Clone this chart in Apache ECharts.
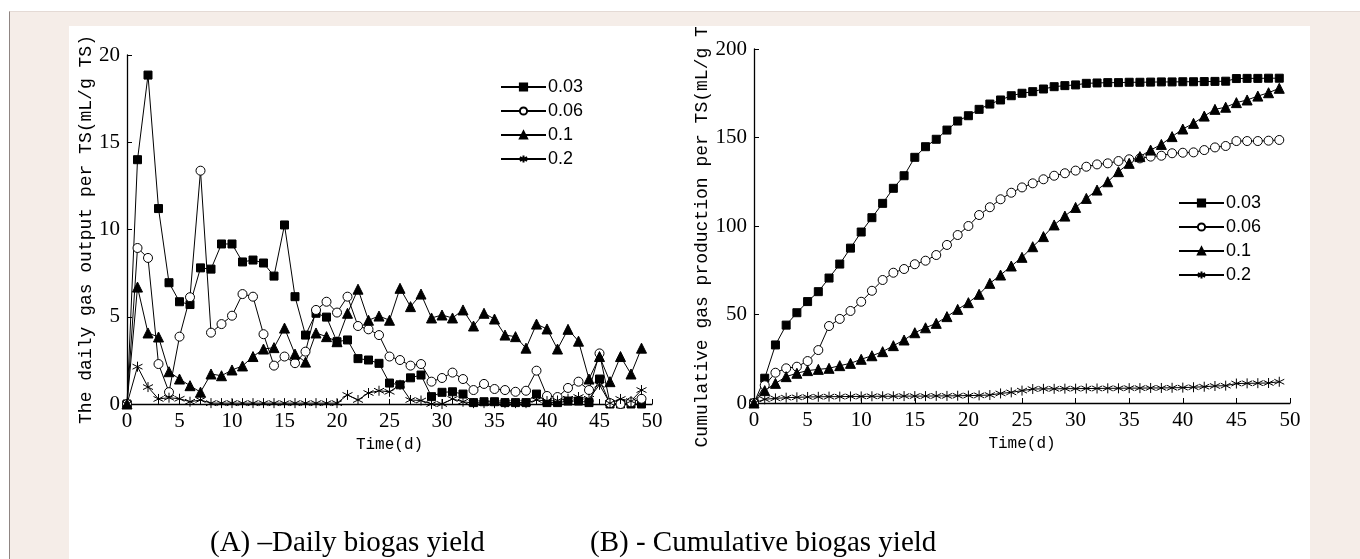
<!DOCTYPE html>
<html>
<head>
<meta charset="utf-8">
<script src="https://cdn.jsdelivr.net/npm/echarts@6/dist/echarts.min.js"></script>
<style>
  body { margin: 0; background: #fff; }
  #frame { position: absolute; left: 9px; top: 11px; width: 1351px; height: 548px; background: #f5ede8;
           border-top: 1px solid #e4dad5; border-left: 1px solid #8f8582; box-sizing: border-box; }
  #chart { position: absolute; left: 69px; top: 26px; width: 1241px; height: 533px; background: #fff; }
</style>
</head>
<body>
<div id="frame"></div>
<div id="chart"></div>
<script>
const days = [0, 1, 2, 3, 4, 5, 6, 7, 8, 9, 10, 11, 12, 13, 14, 15, 16, 17, 18, 19, 20, 21, 22, 23, 24,
  25, 26, 27, 28, 29, 30, 31, 32, 33, 34, 35, 36, 37, 38, 39, 40, 41, 42, 43, 44, 45, 46, 47, 48, 49]
const seriesNames = ['0.03', '0.06', '0.1', '0.2']

// (A) daily gas output, mL/g TS
const daily003 = [0, 14.0, 18.85, 11.2, 6.95, 5.86, 5.7, 7.8, 7.73, 9.17,
  9.17, 8.14, 8.25, 8.08, 7.33, 10.26, 6.15, 3.95, 5.2, 4.98,
  3.57, 3.67, 2.6, 2.52, 2.33, 1.2, 1.1, 1.5, 1.66, 0.42,
  0.67, 0.7, 0.57, 0.08, 0.13, 0.13, 0.08, 0.08, 0.08, 0.57,
  0.08, 0.08, 0.17, 0.17, 0.08, 1.43, 0, 0, 0, 0]
const daily006 = [0, 8.94, 8.37, 2.29, 0.68, 3.86, 6.12, 13.37, 4.09, 4.58,
  5.06, 6.3, 6.15, 4.0, 2.2, 2.72, 2.34, 3.0, 5.39, 5.86,
  5.24, 6.15, 4.47, 4.28, 3.95, 2.72, 2.52, 2.2, 2.29, 1.28,
  1.49, 1.8, 1.43, 0.8, 1.15, 0.86, 0.8, 0.7, 0.76, 1.91,
  0.46, 0.4, 0.92, 1.28, 0.8, 2.9, 0.05, 0, 0.1, 0.3]
const daily01 = [0, 6.7, 4.07, 3.84, 1.85, 1.43, 1.05, 0.68, 1.72, 1.62,
  1.95, 2.18, 2.72, 3.15, 3.23, 4.35, 2.86, 2.4, 4.07, 3.86,
  3.57, 5.2, 6.58, 4.8, 5.04, 4.8, 6.63, 5.58, 6.3, 4.93,
  5.1, 4.93, 5.39, 4.47, 5.2, 4.87, 3.95, 3.86, 3.2, 4.58,
  4.3, 3.15, 4.28, 3.6, 1.43, 2.72, 1.28, 2.72, 1.72, 3.2]
const daily02 = [0, 2.14, 0.97, 0.29, 0.36, 0.3, 0.13, 0.23, 0.05, 0.05,
  0.05, 0.05, 0.05, 0.05, 0.05, 0.05, 0.05, 0.05, 0.05, 0.05,
  0.05, 0.52, 0.23, 0.63, 0.76, 0.7, 1.1, 0.23, 0.2, 0,
  0, 0.29, 0.13, 0.05, 0.05, 0.05, 0.05, 0.05, 0.05, 0.23,
  0.17, 0.2, 0.3, 0.4, 0.3, 1.1, 0.05, 0.29, 0.17, 0.8]

// (B) cumulative gas production, mL/g TS
const cum003 = [0, 14, 32.8, 44, 51, 57.3, 62.9, 70.6, 78.5, 87.5,
  96.6, 104.7, 112.8, 121.3, 128.4, 138.8, 144.8, 149, 154.2, 159.3,
  162.3, 165.9, 168.9, 171.2, 173.6, 175, 175.9, 177.4, 178.7, 179.3,
  179.7, 180.6, 180.8, 181, 181, 181.2, 181.2, 181.3, 181.4, 181.4,
  181.5, 181.5, 181.6, 181.7, 181.8, 183.3, 183.4, 183.4, 183.5, 183.5]
const cum006 = [0, 10, 17.1, 19.6, 20.5, 23.7, 29.9, 43.5, 47.5, 52,
  57.2, 63.4, 69.5, 73.6, 75.7, 78.4, 80.4, 83.6, 89.3, 94.9,
  100, 106.2, 110.6, 115.1, 118.8, 121.8, 124.1, 126.4, 128.4, 129.8,
  131.3, 133.5, 134.8, 135.4, 136.7, 137.7, 138.2, 139.2, 139.7, 141.1,
  141.4, 141.6, 142.9, 144.4, 145.2, 148, 148, 148, 148.2, 148.6]
const cum01 = [0, 7, 11.1, 14.9, 16.8, 18.3, 19, 19.6, 21.1, 22.4,
  24.7, 26.7, 29, 32.4, 35.6, 39.7, 42.5, 45, 48.8, 52.9,
  56.7, 61.4, 67.6, 72.3, 77.4, 82.3, 88.3, 94, 100.6, 105.6,
  110.5, 115.6, 120.3, 125, 130.7, 135.4, 139.2, 142.9, 146.1, 150.5,
  154.8, 158, 162.1, 165.9, 167.1, 169.7, 171.2, 173.4, 175.3, 177.8]
const cum02 = [0, 2.1, 2.6, 3.0, 3.2, 3.4, 3.5, 3.6, 3.6, 3.7,
  3.7, 3.8, 3.8, 3.8, 3.9, 3.9, 3.9, 4.0, 4.0, 4.1,
  4.2, 4.3, 4.5, 5.4, 6.0, 7.0, 7.9, 8.0, 8.0, 8.1,
  8.1, 8.2, 8.2, 8.3, 8.3, 8.4, 8.4, 8.5, 8.5, 8.6,
  8.7, 8.9, 9.2, 9.6, 9.8, 11.0, 11.1, 11.2, 11.3, 12.0]

const captionA = '(A) –Daily biogas yield'
const captionB = '(B) - Cumulative biogas yield'

const serif = 'Liberation Serif'
const mono = 'Liberation Mono'
const asterisk = 'path://M0,-10L0,10M-8.66,-5L8.66,5M-8.66,5L8.66,-5'

const marks = [
  { symbol: 'rect', symbolSize: 8, itemStyle: { color: '#000', borderColor: '#000', borderWidth: 1 } },
  { symbol: 'circle', symbolSize: 9, itemStyle: { color: '#fff', borderColor: '#000', borderWidth: 1 } },
  { symbol: 'triangle', symbolSize: 10, itemStyle: { color: '#000', borderColor: '#000', borderWidth: 1 } },
  { symbol: asterisk, symbolSize: 10, itemStyle: { color: '#000', borderColor: '#000', borderWidth: 1 } },
]

const pairs = (vals) => days.map((d, i) => [d, vals[i]])

function makeSeries(idx, valueSets) {
  return valueSets.map((vals, i) => ({
    name: seriesNames[i],
    type: 'line',
    xAxisIndex: idx,
    yAxisIndex: idx,
    data: pairs(vals),
    ...marks[i],
    showAllSymbol: true,
    lineStyle: { color: '#000', width: 1 },
    emphasis: { disabled: true },
    animation: false,
  }))
}

function xAxis(idx) {
  return {
    type: 'value', gridIndex: idx, min: 0, max: 50, interval: 5,
    name: 'Time(d)', nameLocation: 'middle', nameGap: 25,
    nameTextStyle: { fontFamily: mono, fontSize: 16, color: '#000' },
    axisLine: { lineStyle: { color: '#000', width: 1.3 } },
    axisTick: { inside: true, length: 5, lineStyle: { color: '#000' } },
    axisLabel: { fontFamily: serif, fontSize: 21, color: '#000', margin: 7 },
    splitLine: { show: false },
  }
}

function yAxis(idx, max, interval, name, gap) {
  return {
    type: 'value', gridIndex: idx, min: 0, max, interval,
    name, nameLocation: 'middle', nameGap: gap, nameRotate: 90,
    nameTextStyle: { fontFamily: mono, fontSize: 18, color: '#000' },
    axisLine: { show: true, lineStyle: { color: '#000', width: 1.3 } },
    axisTick: { show: true, inside: true, length: 5, lineStyle: { color: '#000' } },
    axisLabel: { fontFamily: serif, fontSize: 21, color: '#000', margin: 7 },
    splitLine: { show: false },
  }
}

function legend(left, top) {
  return {
    data: seriesNames, orient: 'vertical', left, top,
    itemWidth: 45, itemHeight: 9, itemGap: 6, padding: 0,
    selectedMode: false,
    textStyle: { fontFamily: 'Liberation Sans', fontSize: 18, color: '#000', padding: [0, 0, 0, -3] },
  }
}

const chart = echarts.init(document.getElementById('chart'))
chart.setOption({
  animation: false,
  backgroundColor: '#fff',
  grid: [
    { left: 58, top: 29, width: 525, height: 349, outerBoundsMode: 'none', containLabel: false },
    { left: 685, top: 23, width: 536, height: 354, outerBoundsMode: 'none', containLabel: false },
  ],
  xAxis: [xAxis(0), xAxis(1)],
  yAxis: [
    yAxis(0, 20, 5, 'The daily gas output per TS(mL/g TS)', 32),
    yAxis(1, 200, 50, 'Cumulative gas production per TS(mL/g TS)', 43),
  ],
  legend: [legend(431, 52), legend(1109, 168)],
  series: [
    ...makeSeries(0, [daily003, daily006, daily01, daily02]),
    ...makeSeries(1, [cum003, cum006, cum01, cum02]),
  ],
  graphic: [
    { type: 'text', left: 141, top: 503, style: { text: captionA, font: '29px "Liberation Serif"', fill: '#000' } },
    { type: 'text', left: 521, top: 503, style: { text: captionB, font: '29px "Liberation Serif"', fill: '#000' } },
  ],
})

window.addEventListener('resize', () => chart.resize())
</script>
</body>
</html>
